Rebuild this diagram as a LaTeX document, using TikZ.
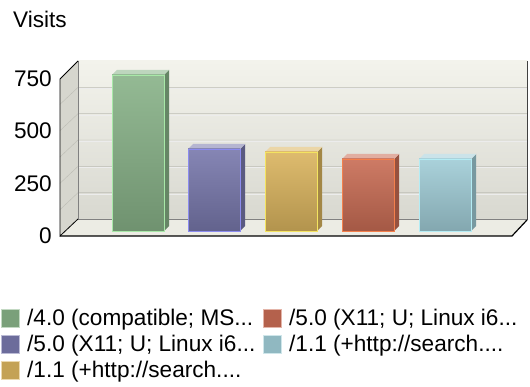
\documentclass[tikz,border=0pt]{standalone}
\usepackage{fontspec}
\setmainfont{Liberation Sans}
\definecolor{wallTop}{HTML}{F3F3EC}
\definecolor{wallBot}{HTML}{D8D8D0}
\definecolor{wallSide}{HTML}{D6D6CE}
\definecolor{floorC}{HTML}{ECECE4}
\definecolor{gridC}{HTML}{BCBCB4}
\definecolor{greenBar}{HTML}{88B288}
\definecolor{blueBar}{HTML}{7878AC}
\definecolor{yellowBar}{HTML}{DAB45E}
\definecolor{redBar}{HTML}{C86C54}
\definecolor{cyanBar}{HTML}{A0CCD6}
\definecolor{greenEdge}{HTML}{A8E8A8}
\definecolor{blueEdge}{HTML}{8C8CF0}
\definecolor{yellowEdge}{HTML}{F4E460}
\definecolor{redEdge}{HTML}{F4804C}
\definecolor{cyanEdge}{HTML}{B4ECF4}
\tikzset{lbl/.style={inner sep=0pt,font=\fontsize{22.6}{26}\selectfont}}
\newcommand\chartbar[4]{%
\fill[#3!75!black] (#1+52,231) -- (#1+57,226) -- (#1+57,#2-5) -- (#1+52,#2) -- cycle;
\fill[#3!55!white] (#1,#2) -- (#1+5,#2-5) -- (#1+57,#2-5) -- (#1+52,#2) -- cycle;
\shadedraw[top color=#3!90!white,bottom color=#3!82!black,draw=#4] (#1,#2) rectangle (#1+52,231);
}
\newcommand\legkey[3]{\filldraw[fill=#3!90!black,draw=#3!50!white] (#1,#2) rectangle (#1+18,#2+18);}

\begin{document}
\begin{tikzpicture}[x=1pt,y=-1pt]
\useasboundingbox (0,0) rectangle (530,387);
\shade[top color=wallTop,bottom color=wallBot] (78,61) rectangle (527,219);
\fill[wallSide] (60,79) -- (78,61) -- (78,219) -- (60,236) -- cycle;
\fill[floorC] (60,236) -- (78,219) -- (527,219) -- (512,236) -- cycle;
\foreach \i in {1,...,5}{
  \draw[gridC] (60,236-26.33*\i) -- (78,219-26.33*\i) -- (527,219-26.33*\i);
  \draw[white!85!gray] (78,220.2-26.33*\i) -- (527,220.2-26.33*\i);
}
\draw[gray] (78,61) -- (78,219) -- (527,219);
\draw[thick] (60,79) -- (78,61);
\draw[thick] (60,79) -- (60,236) -- (78,219);
\draw[very thick] (60,236) -- (512,236) -- (527,220);
\draw[black!75,thick] (527,61) -- (527,220);
\chartbar{112}{75}{greenBar}{greenEdge}
\chartbar{188}{149}{blueBar}{blueEdge}
\chartbar{265}{152}{yellowBar}{yellowEdge}
\chartbar{342}{159}{redBar}{redEdge}
\chartbar{419}{159}{cyanBar}{cyanEdge}
\node[lbl,anchor=base west] (title) at (13,28) {Visits};
\node[lbl,anchor=base east] (t750) at (52,87) {750};
\node[lbl,anchor=base east] (t500) at (52,139) {500};
\node[lbl,anchor=base east] (t250) at (52,192) {250};
\node[lbl,anchor=base east] (t0) at (52,244) {0};
\legkey{1}{309}{greenBar}
\node[lbl,anchor=base west] (leg1) at (27,326) {/4.0 (compatible; MS...};
\legkey{263}{309}{redBar}
\node[lbl,anchor=base west] (leg2) at (289,326) {/5.0 (X11; U; Linux i6...};
\legkey{1}{335}{blueBar}
\node[lbl,anchor=base west] (leg3) at (27,351.5) {/5.0 (X11; U; Linux i6...};
\legkey{263}{335}{cyanBar}
\node[lbl,anchor=base west] (leg4) at (289,351.5) {/1.1 (+http://search....};
\legkey{1}{361}{yellowBar}
\node[lbl,anchor=base west] (leg5) at (27,377) {/1.1 (+http://search....};
\end{tikzpicture}
\end{document}
